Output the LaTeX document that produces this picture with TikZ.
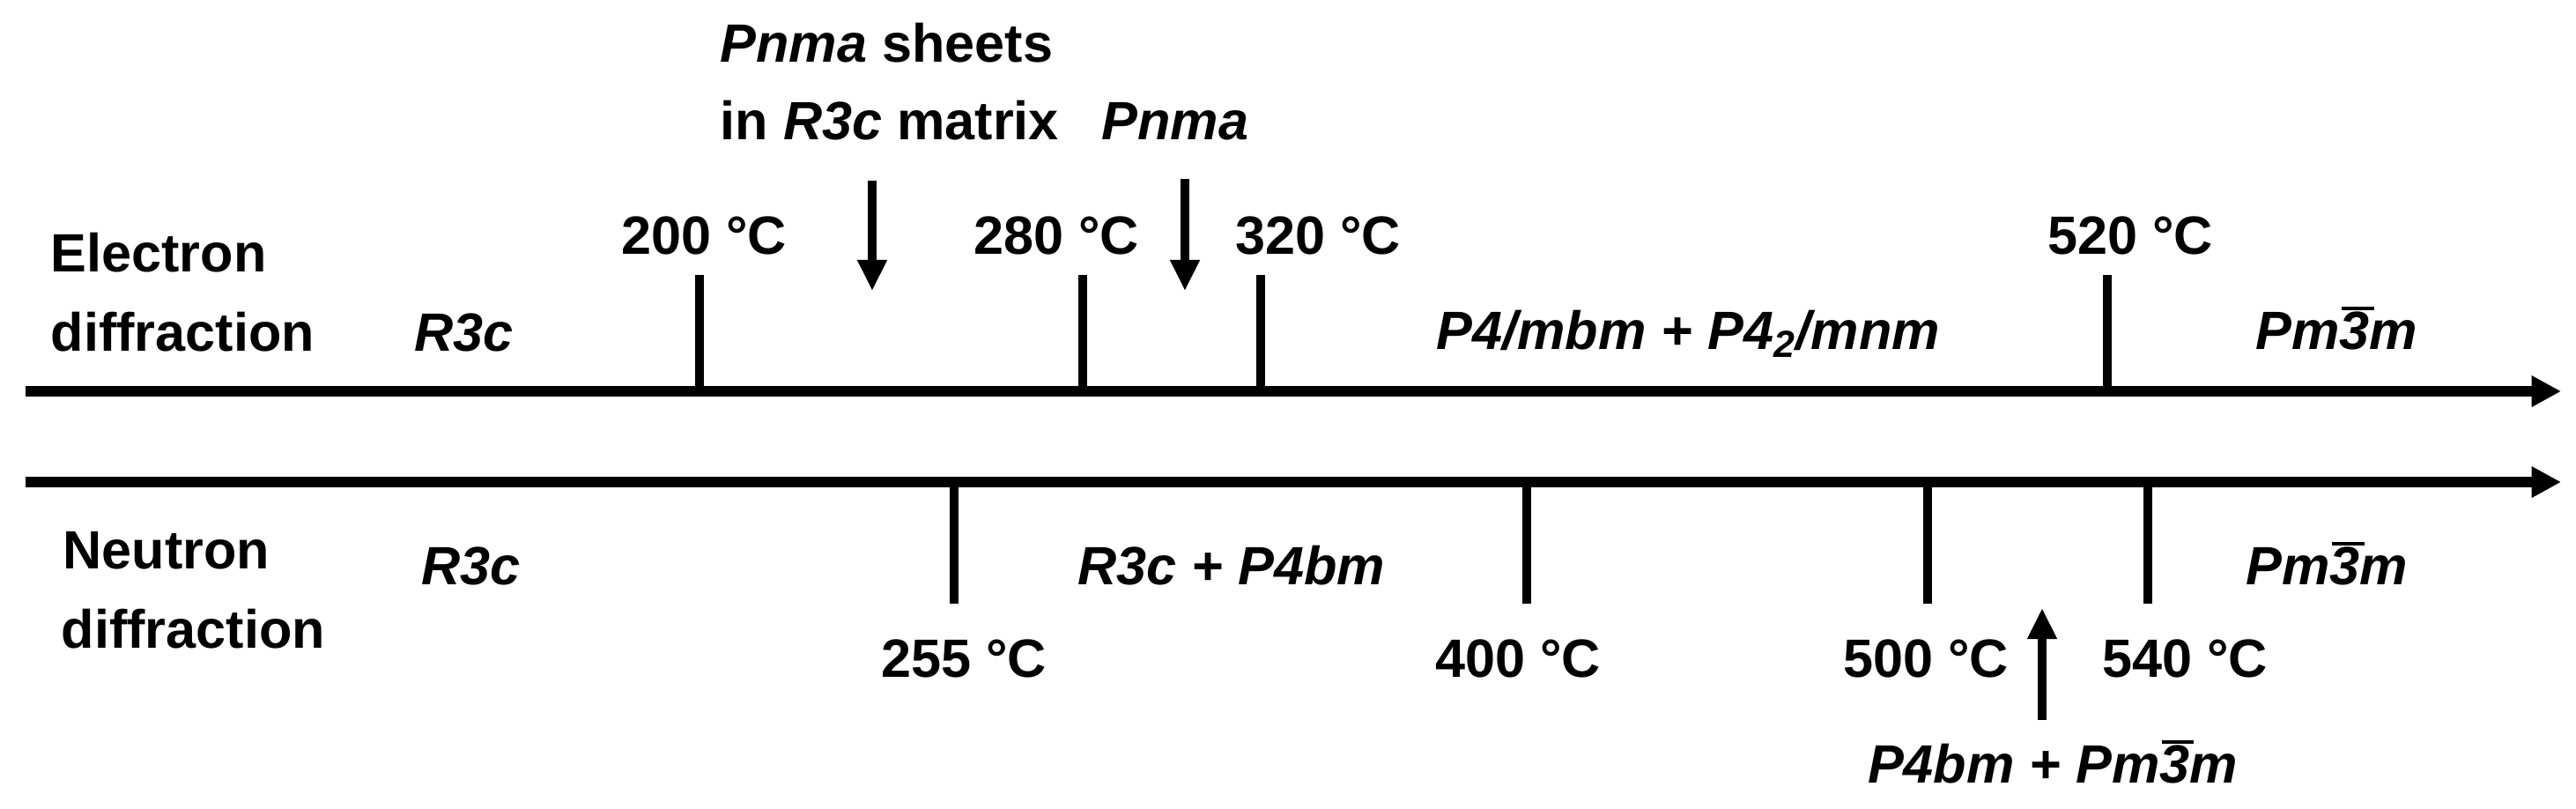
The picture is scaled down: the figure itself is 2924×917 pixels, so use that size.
\documentclass[tikz,border=0pt]{standalone}
\usepackage{fontspec}
\setmainfont{Liberation Sans}
\usetikzlibrary{arrows.meta}
\newcommand{\sg}[1]{\textit{#1}}
\newcommand{\bthree}{\rlap{\kern0.6pt\rule[12.4pt]{10.4pt}{1.2pt}}3}
\begin{document}
\begin{tikzpicture}[x=0.01cm,y=-0.01cm,
  lbl/.style={inner sep=0pt, font=\fontsize{17.4}{21}\selectfont\bfseries},
  lw/.style={lbl, anchor=base west},
  lc/.style={lbl, anchor=base},
  axisline/.style={line width=3.2pt, -{Triangle[length=9.5pt,width=9.5pt]}},
  tickline/.style={line width=3pt},
  marker/.style={line width=3pt, -{Triangle[length=10pt,width=9pt]}}]
\useasboundingbox (0,0) rectangle (2924,917);

% ---------- Electron diffraction (top) ----------
\coordinate (a1s) at (29,444);
\coordinate (a1e) at (2907,444);
\draw[axisline] (a1s) -- (a1e);

\node[lw] (el1) at (57,308) {Electron};
\node[lw] (el2) at (57,398) {diffraction};
\node[lw] (er3c) at (470,398) {\sg{R3c}};
\node[lw] (esh1) at (817,70) {\sg{Pnma} sheets};
\node[lw] (esh2) at (817,158) {in \sg{R3c} matrix};
\node[lw] (epnma) at (1250,158) {\sg{Pnma}};
\node[lw] (etet) at (1630,396) {\sg{P4/mbm + P4\textsubscript{2}/mnm}};
\node[lw] (ecub) at (2560,396) {\sg{Pm\bthree m}};

\node[lc] (l200) at (799,288) {200 °C};
\node[lc] (l280) at (1199,288) {280 °C};
\node[lc] (l320) at (1496,288) {320 °C};
\node[lc] (l520) at (2418,288) {520 °C};

\coordinate (t200a) at (794,312);  \coordinate (t200b) at (794,444);
\coordinate (t280a) at (1229,312); \coordinate (t280b) at (1229,444);
\coordinate (t320a) at (1431,312); \coordinate (t320b) at (1431,444);
\coordinate (t520a) at (2392,312); \coordinate (t520b) at (2392,444);
\draw[tickline] (t200a) -- (t200b);
\draw[tickline] (t280a) -- (t280b);
\draw[tickline] (t320a) -- (t320b);
\draw[tickline] (t520a) -- (t520b);

\coordinate (m1a) at (990,205);  \coordinate (m1b) at (990,330);
\coordinate (m2a) at (1345,203); \coordinate (m2b) at (1345,330);
\draw[marker] (m1a) -- (m1b);
\draw[marker] (m2a) -- (m2b);

% ---------- Neutron diffraction (bottom) ----------
\coordinate (a2s) at (29,547);
\coordinate (a2e) at (2907,547);
\draw[axisline] (a2s) -- (a2e);

\node[lw] (nt1) at (71,645) {Neutron};
\node[lw] (nt2) at (69,735) {diffraction};
\node[lw] (nr3c) at (478,663) {\sg{R3c}};
\node[lw] (nmix) at (1223,663) {\sg{R3c + P4bm}};
\node[lw] (ncub) at (2549,663) {\sg{Pm\bthree m}};
\node[lc] (nmix2) at (2330,888) {\sg{P4bm + Pm\bthree m}};

\node[lc] (l255) at (1094,768) {255 °C};
\node[lc] (l400) at (1723,768) {400 °C};
\node[lc] (l500) at (2186,768) {500 °C};
\node[lc] (l540) at (2480,768) {540 °C};

\coordinate (t255a) at (1083,547); \coordinate (t255b) at (1083,685);
\coordinate (t400a) at (1733,547); \coordinate (t400b) at (1733,685);
\coordinate (t500a) at (2188,547); \coordinate (t500b) at (2188,685);
\coordinate (t540a) at (2438,547); \coordinate (t540b) at (2438,685);
\draw[tickline] (t255a) -- (t255b);
\draw[tickline] (t400a) -- (t400b);
\draw[tickline] (t500a) -- (t500b);
\draw[tickline] (t540a) -- (t540b);

\coordinate (m3a) at (2318,817); \coordinate (m3b) at (2318,690);
\draw[marker] (m3a) -- (m3b);
\end{tikzpicture}
\end{document}
